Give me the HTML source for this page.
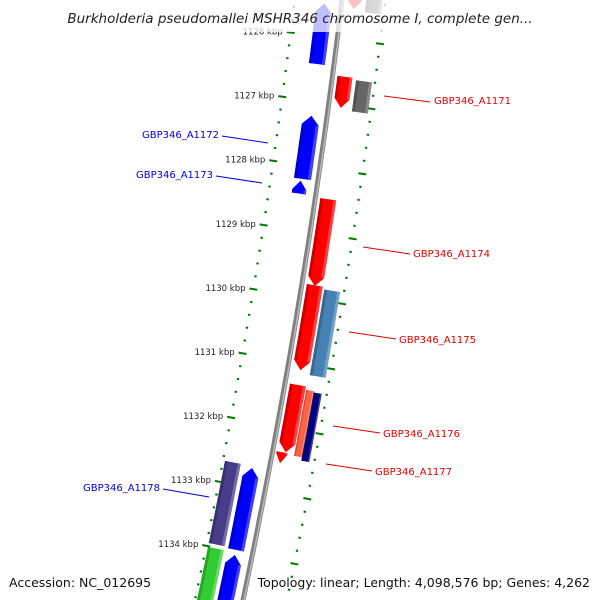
<!DOCTYPE html>
<html><head><meta charset="utf-8"><style>
html,body{margin:0;padding:0;background:#fff;width:600px;height:600px;overflow:hidden;}
svg{display:block;font-family:"DejaVu Sans","Liberation Sans",sans-serif;overflow:hidden;}
</style></head><body>
<svg id="map" width="600" height="600" viewBox="0 0 600 600" xmlns="http://www.w3.org/2000/svg">
<g id="ticks"></g>
<g id="backbone"></g>
<g id="genes"></g>
<g id="labels"></g>
<rect x="0" y="0" width="600" height="32" fill="#fff" opacity="0.75"/>
<text x="300" y="23" text-anchor="middle" font-size="13.5" font-style="italic" fill="#222">Burkholderia pseudomallei MSHR346 chromosome I, complete gen...</text>
<text x="9" y="587" font-size="12.5" fill="#111">Accession: NC_012695</text>
<text x="590" y="587" text-anchor="end" font-size="12.5" fill="#111">Topology: linear; Length: 4,098,576 bp; Genes: 4,262</text>
</svg>
<script>
// data (kbp)
const geneStarts = [1125.49, 1126.57, 1126.60, 1127.23, 1128.24, 1128.46, 1129.79, 1129.83, 1131.33, 1132.38, 1131.38, 1131.40, 1132.67, 1132.70, 1134.01, 1134.05, 1125.3, 1125.3];
const geneEnds   = [1126.43, 1127.05, 1127.08, 1128.21, 1128.44, 1129.80, 1131.10, 1131.15, 1132.37, 1132.55, 1132.40, 1132.45, 1133.95, 1133.97, 1135.2, 1135.2, 1125.52, 1125.55];
const geneColors = ["#0000ff","#ff0000","#666666","#0000ff","#0000ff","#ff0000","#ff0000","#4682b4","#ff0000","#ff0000","#ff6347","#000080","#483d8b","#0000ff","#32cd32","#0000ff","#ff0000","#666666"];
const geneArrows = ["up","down","none","up","up","down","down","none","down","down","none","none","none","up","none","up","down","none"];
const geneInner = [-25,5,24,-24,-24,5,5,23,5,4,22,30,-45,-25,-45,-25,5,24];
const geneOuter = [-9,20,40,-7,-10,21,21,39,21,15,30,38,-29,-9,-29,-9,20,40];
const tickKbp = [1126,1127,1128,1129,1130,1131,1132,1133,1134];
const tickLabels = ["1126 kbp","1127 kbp","1128 kbp","1129 kbp","1130 kbp","1131 kbp","1132 kbp","1133 kbp","1134 kbp"];
const labelNames = ["GBP346_A1171","GBP346_A1172","GBP346_A1173","GBP346_A1174","GBP346_A1175","GBP346_A1176","GBP346_A1177","GBP346_A1178"];
const labelColors = ["#e00000","#0000e0","#0000e0","#e00000","#e00000","#e00000","#e00000","#0000e0"];
const labelX = [434,219,213,413,399,383,375,160];
const labelY = [104,138,178,257,343,437,475,491];
const lineStart = [[384,96],[222,136],[216,176],[363,247],[349,332],[333,426],[326,464],[163,489]];
const lineEnd = [[430,102],[268,143],[262,183],[410,254],[396,339],[380,433],[372,471],[209,497]];

const NS="http://www.w3.org/2000/svg";
function mk(t,a,p){const e=document.createElementNS(NS,t);for(const k in a)e.setAttribute(k,a[k]);p.appendChild(e);return e;}
const A=0.12,B=7.5e-5,PX=64.6;
function y0of(k){return 103+(k-1127)*PX;}
function P(k,d){const y0=y0of(k);const s=-(A+2*B*y0);const x0=342-A*y0-B*y0*y0;const n=Math.sqrt(1+s*s);return [x0+d/n,y0-d*s/n];}
function pts(arr){return arr.map(p=>p[0].toFixed(1)+","+p[1].toFixed(1)).join(" ");}

// backbone
const bb=document.getElementById('backbone');
let bp=[];for(let k=1125.2;k<=1135.0;k+=0.1)bp.push(P(k,0));
mk('polyline',{points:pts(bp),fill:'none',stroke:'#808080','stroke-width':5},bb);
let bp2=[];for(let k=1125.2;k<=1135.0;k+=0.1)bp2.push(P(k,1));
mk('polyline',{points:pts(bp2),fill:'none',stroke:'#b8b8b8','stroke-width':1.5},bb);

// ticks
const tg=document.getElementById('ticks');
for(let i=0;i<=50;i++){
  const k=1125+i*0.2;const major=Math.abs(k-Math.round(k))<0.01;
  [-47,43].forEach(d=>{
    const L=major?4:1.2;
    const a=P(k,d-L),b=P(k,d+L);
    const t=mk('line',{x1:a[0],y1:a[1],x2:b[0],y2:b[1],stroke:'#007a00','stroke-width':2},tg);
    
    
  });
}
tickKbp.forEach((k,i)=>{
  const p=P(k,-55);
  const t=mk('text',{x:p[0],y:p[1]+3,'text-anchor':'end','font-size':8.5,fill:'#222'},tg);
  t.textContent=tickLabels[i];
  
  
});

// genes
const gg=document.getElementById('genes');
function shade(c,f){const n=parseInt(c.slice(1),16);let r=n>>16,g=(n>>8)&255,b=n&255;
  if(f>0){r+= (255-r)*f;g+=(255-g)*f;b+=(255-b)*f;}else{r*=1+f;g*=1+f;b*=1+f;}
  return 'rgb('+[r,g,b].map(v=>Math.round(v)).join(',')+')';}
function genePoly(s,e,d0,d1,arrow,H){
  const h=9/PX;const m=(d0+d1)/2;let L=[],R=[];
  const steps=8;
  let s2=s,e2=e;
  if(arrow==='up')s2=Math.min(s+h,e);if(arrow==='down')e2=Math.max(e-h,s);
  for(let i=0;i<=steps;i++){const k=s2+(e2-s2)*i/steps;L.push(P(k,d0));R.push(P(k,d1));}
  let poly=[];
  if(arrow==='up'){poly.push(P(s,H===undefined?m:H));}
  poly=poly.concat(R);
  if(arrow==='down'){poly.push(P(e,H===undefined?m:H));}
  poly=poly.concat(L.reverse());
  return poly;
}
geneStarts.forEach((s,i)=>{
  const e=geneEnds[i],d0=geneInner[i],d1=geneOuter[i],c=geneColors[i],ar=geneArrows[i];
  const g=mk('g',{},gg);
  
  
  const m=(d0+d1)/2;
  mk('polygon',{points:pts(genePoly(s,e,d0,d1,ar,m)),fill:c},g);
  const w=d1-d0;
  const hs=ar==='up'?9/PX:0, he=ar==='down'?9/PX:0;
  mk('polygon',{points:pts(genePoly(s+hs,e-he,d0,d0+w*0.18,'none')),fill:shade(c,-0.25),opacity:0.8},g);
  mk('polygon',{points:pts(genePoly(s+hs,e-he,d1-w*0.18,d1,'none')),fill:shade(c,0.25)},g);
});

// labels
const lg=document.getElementById('labels');
labelNames.forEach((n,i)=>{
  const l=mk('line',{x1:lineStart[i][0],y1:lineStart[i][1],x2:lineEnd[i][0],y2:lineEnd[i][1],stroke:labelColors[i],'stroke-width':1},lg);
  
  
  const left=labelX[i]<300;
  const t=mk('text',{x:labelX[i],y:labelY[i],'text-anchor':left?'end':'start','font-size':10,fill:labelColors[i]},lg);
  t.textContent=n;
  
  
});
</script>
</body></html>
